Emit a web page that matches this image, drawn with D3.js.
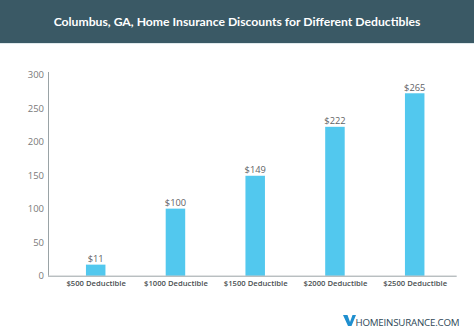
<!DOCTYPE html>
<html>
<head>
<meta charset="utf-8">
<script src="https://cdn.jsdelivr.net/npm/d3@7"></script>
<style>
  html, body { margin: 0; padding: 0; background: #fff; }
  svg { display: block; }
</style>
</head>
<body>
<svg id="chart" width="474" height="335"></svg>
<script>
// ---- data ----
const title = "Columbus, GA, Home Insurance Discounts for Different Deductibles";
const categories = ["$500 Deductible", "$1000 Deductible", "$1500 Deductible", "$2000 Deductible", "$2500 Deductible"];
const values = [11, 100, 149, 222, 265];          // labelled values
const barValues = [16.5, 100, 149, 222, 272];      // bar heights as drawn in the picture
const yTicks = [0, 50, 100, 150, 200, 250, 300];
const brand = "HOMEINSURANCE.COM";

const W = 474, H = 335;
const svg = d3.select("#chart");

function fitWidth(sel, target, base) {
  const w = sel.node().getComputedTextLength();
  if (w > 0) sel.attr("font-size", base * target / w);
}

// header band
svg.append("rect").attr("x", 0).attr("y", 0).attr("width", W).attr("height", 43).attr("fill", "#3a5965");
svg.append("rect").attr("x", 0).attr("y", 43).attr("width", W).attr("height", 1).attr("fill", "#dfe9ec");
const t = svg.append("text")
  .attr("x", W / 2).attr("y", 21)
  .attr("text-anchor", "middle").attr("dominant-baseline", "central")
  .attr("fill", "#ffffff")
  .attr("font-family", "Lato, 'Open Sans', sans-serif")
  .attr("font-weight", 700)
  .attr("font-size", 12)
  .text(title);
fitWidth(t, 367, 12);

// scales
const x = d3.scalePoint().domain(categories).range([95.7, 414.7]);
const y = d3.scaleLinear().domain([0, 300]).range([275.7, 74.5]);
const barW = 19.5;
const axisLeft = 48, axisRight = 456.7;

// y axis
const yAxis = d3.axisLeft(y).tickValues(yTicks).tickSize(0).tickPadding(4);
const gy = svg.append("g").attr("transform", `translate(${axisLeft},0)`).call(yAxis);
gy.select(".domain").remove();
gy.selectAll("text")
  .attr("fill", "#7a7a7a")
  .attr("font-family", "'Open Sans', sans-serif")
  .attr("font-size", 9.5);
svg.append("line")
  .attr("x1", axisLeft + 0.5).attr("x2", axisLeft + 0.5)
  .attr("y1", 72).attr("y2", y(0))
  .attr("stroke", "#9aa3a6").attr("stroke-width", 1);

// bars
svg.append("g").selectAll("rect")
  .data(categories)
  .join("rect")
  .attr("x", (d) => x(d) - barW / 2)
  .attr("y", (d, i) => y(barValues[i]))
  .attr("width", barW)
  .attr("height", (d, i) => y(0) - y(barValues[i]))
  .attr("fill", "#52c8ee");

// value labels
svg.append("g").selectAll("text")
  .data(categories)
  .join("text")
  .attr("x", (d) => x(d))
  .attr("y", (d, i) => y(barValues[i]) - 2.5)
  .attr("text-anchor", "middle")
  .attr("fill", "#5f6366")
  .attr("font-family", "'Open Sans', sans-serif")
  .attr("font-size", 9.3)
  .text((d, i) => "$" + values[i]);

// x axis
svg.append("line")
  .attr("x1", axisLeft).attr("x2", axisRight)
  .attr("y1", y(0) + 0.5).attr("y2", y(0) + 0.5)
  .attr("stroke", "#9aa3a6").attr("stroke-width", 1);
const xAxis = d3.axisBottom(x).tickSize(0).tickPadding(4);
const gx = svg.append("g").attr("transform", `translate(0,${y(0) + 1})`).call(xAxis);
gx.select(".domain").remove();
const xl = gx.selectAll("text")
  .attr("fill", "#4a4f52")
  .attr("font-family", "'Open Sans', sans-serif")
  .attr("font-weight", 600)
  .attr("font-size", 8);
// fit the widest label to the reference width
const widest = gx.selectAll("text").filter((d) => d === categories[4]);
const w0 = widest.node().getComputedTextLength();
const xfs = w0 > 0 ? 8 * 64 / w0 : 8;
xl.attr("font-size", xfs);

// brand logo
const logo = svg.append("g").attr("transform", "translate(343,315)");
logo.append("path")
  .attr("d", "M0,0 L4.5,0 L7,7 L9.5,0 L13,0 L8.5,11 L5,11 Z")
  .attr("fill", "#1f8fcf");
const bt = logo.append("text")
  .attr("x", 12.5).attr("y", 10.5)
  .attr("fill", "#2e4756")
  .attr("font-family", "'Open Sans', sans-serif")
  .attr("font-size", 10)
  .attr("letter-spacing", -0.2)
  .text(brand);
fitWidth(bt, 104, 10);
</script>
</body>
</html>
